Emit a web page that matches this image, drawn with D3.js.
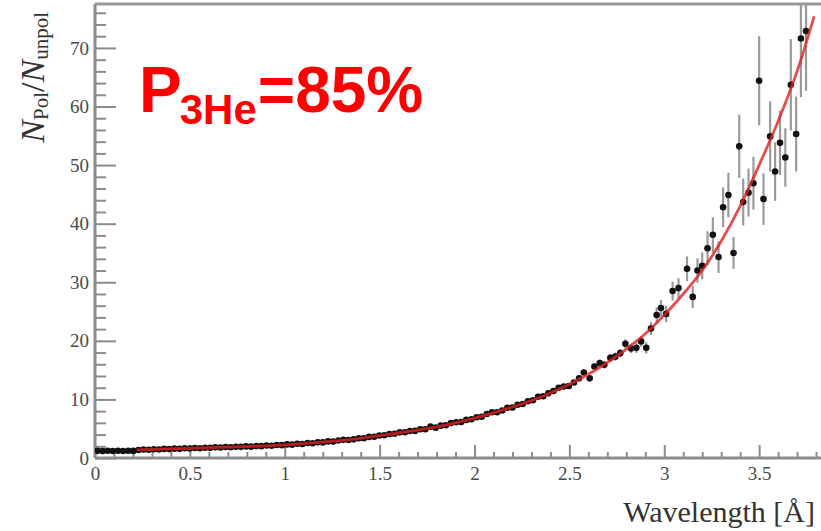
<!DOCTYPE html>
<html><head><meta charset="utf-8">
<script src="https://cdn.jsdelivr.net/npm/d3@7"></script>
<style>body{margin:0;background:#fff}svg{display:block}</style>
</head><body>
<svg id="chart" width="821" height="531"></svg>
<script>
// ---- data ----
const wavelengths = [0.013,0.040,0.067,0.094,0.121,0.148,0.175,0.202,0.229,0.256,0.283,0.310,0.337,0.364,0.391,0.418,0.445,0.472,0.499,0.526,0.553,0.580,0.607,0.634,0.661,0.688,0.715,0.742,0.769,0.796,0.823,0.850,0.877,0.904,0.931,0.958,0.985,1.012,1.039,1.066,1.093,1.120,1.147,1.174,1.201,1.228,1.255,1.282,1.309,1.336,1.363,1.390,1.417,1.444,1.471,1.498,1.525,1.552,1.579,1.606,1.633,1.660,1.687,1.714,1.741,1.768,1.795,1.822,1.849,1.876,1.903,1.930,1.957,1.984,2.011,2.038,2.065,2.092,2.119,2.146,2.173,2.200,2.227,2.254,2.281,2.308,2.335,2.362,2.389,2.416,2.443,2.470,2.497,2.524,2.551,
  2.576,2.607,2.632,2.660,2.684,2.716,2.742,2.768,2.795,2.825,2.853,2.878,2.905,2.930,2.960,2.983,3.010,3.044,3.075,3.120,3.150,3.175,3.200,3.228,3.256,3.286,3.310,3.338,3.365,3.395,3.416,3.444,3.470,3.500,3.523,3.558,3.584,3.610,3.638,3.667,3.695,3.720,3.747];
const ratios = [1.22,1.18,1.25,1.20,1.23,1.19,1.24,1.21,1.36,1.44,1.40,1.49,1.46,1.55,1.52,1.60,1.56,1.66,1.63,1.71,1.67,1.76,1.73,1.82,1.79,1.87,1.83,1.93,1.90,1.98,1.94,2.05,2.02,2.13,2.10,2.22,2.19,2.32,2.28,2.43,2.40,2.55,2.52,2.69,2.66,2.83,2.80,2.99,3.10,3.06,3.18,3.36,3.38,3.60,3.62,3.85,3.88,4.10,4.14,4.38,4.40,4.62,4.63,4.90,4.92,5.35,5.18,5.52,5.58,5.96,6.10,6.15,6.50,6.62,6.95,7.05,7.52,7.80,7.82,8.10,8.58,8.62,9.10,9.22,9.70,9.85,10.45,10.55,11.05,11.45,12.00,12.20,12.30,12.90,13.60,
  14.6,13.6,15.6,16.2,15.9,17.1,17.3,17.9,19.5,18.7,18.8,19.9,18.8,22.1,24.4,25.6,24.6,28.5,29.0,32.3,27.5,32.0,32.8,35.8,38.1,34.3,42.8,44.9,35.0,53.2,43.7,45.3,46.9,64.4,44.2,54.9,48.9,53.8,51.3,63.7,55.3,71.6,72.9];
const errors = [0.10,0.10,0.10,0.10,0.10,0.10,0.10,0.10,0.05,0.05,0.05,0.05,0.05,0.05,0.05,0.05,0.05,0.05,0.05,0.05,0.05,0.05,0.05,0.05,0.05,0.05,0.05,0.05,0.05,0.05,0.06,0.06,0.06,0.06,0.06,0.06,0.06,0.06,0.06,0.06,0.07,0.07,0.07,0.07,0.07,0.07,0.07,0.08,0.08,0.08,0.08,0.08,0.08,0.09,0.09,0.09,0.09,0.10,0.10,0.10,0.10,0.11,0.11,0.11,0.12,0.12,0.12,0.13,0.13,0.14,0.14,0.15,0.15,0.16,0.17,0.17,0.18,0.19,0.20,0.21,0.22,0.23,0.24,0.25,0.26,0.28,0.29,0.31,0.32,0.34,0.36,0.38,0.40,0.42,0.45,
  0.5,0.5,0.55,0.6,0.6,0.65,0.7,0.7,0.8,0.8,0.85,0.9,0.95,1.1,1.3,1.4,1.4,1.6,1.7,2.1,1.9,2.1,2.3,2.9,3.0,2.7,3.4,3.8,2.7,5.4,4.0,4.1,4.5,7.6,4.4,6.0,5.0,5.5,5.0,7.8,6.4,10.0,10.2];
const fitWavelengths = [0.22,0.3,0.4,0.5,0.6,0.7,0.8,0.9,1.0,1.1,1.2,1.3,1.4,1.5,1.6,1.7,1.8,1.9,2.0,2.1,2.2,2.3,2.4,2.5,2.6,2.7,2.8,2.9,3.0,3.1,3.2,3.3,3.4,3.5,3.6,3.7,3.79];
const fitRatios = [1.37,1.45,1.55,1.65,1.75,1.85,1.95,2.08,2.25,2.45,2.70,3.00,3.35,3.80,4.30,4.75,5.30,6.00,6.80,7.70,8.70,9.80,11.1,12.6,14.3,16.3,18.6,21.2,24.4,28.0,32.0,37.0,43.0,50.0,57.5,66.0,75.4];
const xMajorTicks = [0,0.5,1,1.5,2,2.5,3,3.5];
const xTickLabels = ["0","0.5","1","1.5","2","2.5","3","3.5"];
const yMajorTicks = [0,10,20,30,40,50,60,70];
const yTickLabels = ["0","10","20","30","40","50","60","70"];

// ---- layout ----
const svg = d3.select("#chart");
const L = 95, T = 4, R = 821, B = 458;
const x = d3.scaleLinear().domain([0, 3.826]).range([L, R]);
const y = d3.scaleLinear().domain([0, 77.5]).range([B, T]);
const axisColor = "#8c8c8c";
const serif = "'Liberation Serif','Times New Roman',serif";

svg.append("defs").append("clipPath").attr("id","clip")
  .append("rect").attr("x",L).attr("y",T).attr("width",R-L).attr("height",B-T);

function styleAxis(g){
  g.select(".domain").remove();
  g.selectAll(".tick line").attr("stroke",axisColor).attr("stroke-width",2);
  g.selectAll(".tick text").attr("fill","#4a4a4a").attr("font-family",serif).attr("font-size",19);
}
// x minor
const xMinor = d3.range(0, 39).map(i => +(i*0.1).toFixed(1)).filter(v => !xMajorTicks.includes(v));
svg.append("g").attr("transform",`translate(0,${B})`)
  .call(d3.axisBottom(x).tickValues(xMinor).tickSize(-6).tickFormat(""))
  .call(styleAxis);
svg.append("g").attr("transform",`translate(0,${B})`)
  .call(d3.axisBottom(x).tickValues(xMajorTicks).tickSizeInner(-13).tickSizeOuter(0).tickPadding(9)
    .tickFormat((d,i)=>xTickLabels[i]))
  .call(styleAxis);
// y minor
const yMinor = d3.range(0, 78, 2).filter(v => !yMajorTicks.includes(v));
svg.append("g").attr("transform",`translate(${L},0)`)
  .call(d3.axisLeft(y).tickValues(yMinor).tickSize(-11).tickFormat(""))
  .call(styleAxis);
svg.append("g").attr("transform",`translate(${L},0)`)
  .call(d3.axisLeft(y).tickValues(yMajorTicks).tickSizeInner(-21).tickSizeOuter(0).tickPadding(6)
    .tickFormat((d,i)=>yTickLabels[i]))
  .call(styleAxis);

// frame lines
svg.append("line").attr("x1",L).attr("x2",R).attr("y1",T).attr("y2",T).attr("stroke","#999").attr("stroke-width",3);
svg.append("line").attr("x1",L).attr("x2",L).attr("y1",T).attr("y2",B).attr("stroke",axisColor).attr("stroke-width",3);
svg.append("line").attr("x1",L).attr("x2",R).attr("y1",B).attr("y2",B).attr("stroke",axisColor).attr("stroke-width",3);

// data
const pts = wavelengths.map((w,i)=>({w, v: ratios[i], e: errors[i]}));
const plot = svg.append("g").attr("clip-path","url(#clip)");
plot.selectAll("line.err").data(pts).join("line").attr("class","err")
  .attr("x1",d=>x(d.w)).attr("x2",d=>x(d.w))
  .attr("y1",d=>y(d.v - d.e)).attr("y2",d=>y(d.v + d.e))
  .attr("stroke","#9a9a9a").attr("stroke-width",2.2);
plot.selectAll("circle.pt").data(pts).join("circle").attr("class","pt")
  .attr("cx",d=>x(d.w)).attr("cy",d=>y(d.v)).attr("r",3.3).attr("fill","#111");

const fit = fitWavelengths.map((w,i)=>[w, fitRatios[i]]);
plot.append("path").datum(fit)
  .attr("d", d3.line().x(d=>x(d[0])).y(d=>y(d[1])).curve(d3.curveMonotoneX))
  .attr("fill","none").attr("stroke","#e02020").attr("stroke-opacity",0.8).attr("stroke-width",2.8);

// axis titles
svg.append("text").attr("x",815).attr("y",522).attr("text-anchor","end")
  .attr("font-family",serif).attr("font-size",30).attr("fill","#333")
  .text("Wavelength [Å]");
const yt = svg.append("text").attr("transform","translate(44,12) rotate(-90)").attr("text-anchor","end")
  .attr("font-family",serif).attr("font-size",34).attr("fill","#333");
yt.append("tspan").attr("font-style","italic").text("N");
yt.append("tspan").attr("font-size",21).attr("dy",4).text("Pol");
yt.append("tspan").attr("dy",-4).text("/");
yt.append("tspan").attr("font-style","italic").text("N");
yt.append("tspan").attr("font-size",21).attr("dy",4).text("unpol");

// annotation
const ann = svg.append("text").attr("x",139).attr("y",112)
  .attr("font-family","'Liberation Sans',Arial,sans-serif").attr("font-weight","bold").attr("fill","#f00").attr("font-size",64);
ann.append("tspan").text("P");
ann.append("tspan").attr("font-size",42).attr("dy",12).attr("dx",-2).text("3He");
ann.append("tspan").attr("dy",-12).attr("dx",1).text("=85%");
</script>
</body></html>
